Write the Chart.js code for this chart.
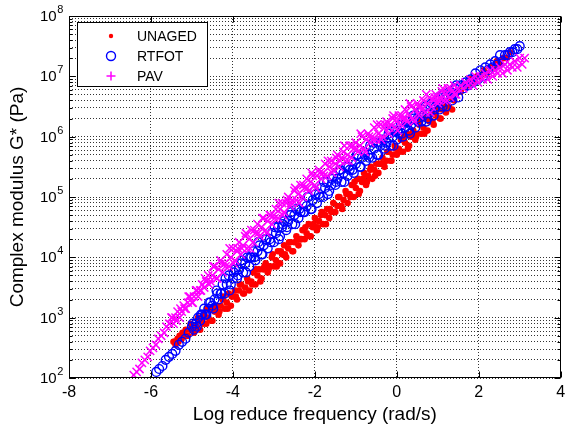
<!DOCTYPE html>
<html>
<head>
<meta charset="utf-8">
<script src="https://cdn.jsdelivr.net/npm/chart.js@4.4.1/dist/chart.umd.min.js"></script>
<style>
  html, body { margin: 0; padding: 0; background: #fff; }
</style>
</head>
<body>
<canvas id="chart" width="568" height="431"></canvas>
<script>
// log reduced frequency (rad/s) and complex modulus G* (Pa)
const unagedX = [
  -5.45, -5.40, -5.35, -5.30, -5.25, -5.20, -5.15, -5.10, -5.05, -5.00,
  -4.95, -4.90, -4.85, -4.80, -4.75, -4.70, -4.65, -4.60, -4.55, -4.50,
  -4.45, -4.40, -4.35, -4.30, -4.25, -4.20, -4.15, -4.10, -4.05, -4.00,
  -3.95, -3.90, -3.85, -3.80, -3.75, -3.70, -3.65, -3.60, -3.55, -3.50,
  -3.45, -3.40, -3.35, -3.30, -3.25, -3.20, -3.15, -3.10, -3.05, -3.00,
  -2.95, -2.90, -2.85, -2.80, -2.75, -2.70, -2.65, -2.60, -2.55, -2.50,
  -2.45, -2.40, -2.35, -2.30, -2.25, -2.20, -2.15, -2.10, -2.05, -2.00,
  -1.95, -1.90, -1.85, -1.80, -1.75, -1.70, -1.65, -1.60, -1.55, -1.50,
  -1.45, -1.40, -1.35, -1.30, -1.25, -1.20, -1.15, -1.10, -1.05, -1.00,
  -0.95, -0.90, -0.85, -0.80, -0.75, -0.70, -0.65, -0.60, -0.55, -0.50,
  -0.45, -0.40, -0.35, -0.30, -0.25, -0.20, -0.15, -0.10, -0.05, 0.00,
  0.05, 0.10, 0.15, 0.20, 0.25, 0.30, 0.35, 0.40, 0.45, 0.50,
  0.55, 0.60, 0.65, 0.70, 0.75, 0.80, 0.85, 0.90, 0.95, 1.00,
  1.05, 1.10, 1.15, 1.20, 1.25, 1.30, 1.35, 1.40,
  1.48, 1.56, 1.64, 1.72, 1.80, 1.88, 1.96, 2.04, 2.12, 2.20,
  2.28, 2.36, 2.44, 2.52, 2.60, 2.68, 2.76,

  -5.43, -5.33, -5.23, -5.13, -5.03, -4.93, -4.83, -4.73, -4.63, -4.53,
  -4.43, -4.33, -4.23, -4.13, -4.03, -3.93, -3.83, -3.73, -3.63, -3.53,
  -3.43, -3.33, -3.23, -3.13, -3.03, -2.93, -2.83, -2.73, -2.63, -2.53,
  -2.43, -2.33, -2.23, -2.13, -2.03, -1.93, -1.83, -1.73, -1.63, -1.53,
  -1.43, -1.33, -1.23, -1.13, -1.03, -0.93, -0.83, -0.73, -0.63, -0.53,
  -0.43, -0.33, -0.23, -0.13, -0.03, 0.07, 0.17, 0.27, 0.37, 0.47,
  0.57, 0.67, 0.77, 0.87, 0.97, 1.07, 1.17, 1.27, 1.37
];
const unagedG = [
  3.98e2, 3.55e2, 4.47e2, 5.01e2, 4.47e2, 5.01e2, 6.31e2, 5.01e2, 6.31e2, 7.08e2,
  5.62e2, 7.08e2, 1.0e3, 6.31e2, 8.91e2, 1.12e3, 7.94e2, 1.0e3, 1.41e3, 8.91e2,
  1.26e3, 1.58e3, 1.12e3, 1.58e3, 2.0e3, 1.41e3, 1.78e3, 2.51e3, 1.58e3, 2.24e3,
  2.82e3, 2.0e3, 2.82e3, 3.55e3, 2.51e3, 3.16e3, 4.47e3, 2.82e3, 3.98e3, 5.62e3,
  3.55e3, 5.01e3, 6.31e3, 4.47e3, 6.31e3, 7.94e3, 5.62e3, 7.08e3, 1.0e4, 7.08e3,
  8.91e3, 1.26e4, 7.94e3, 1.12e4, 1.58e4, 1.0e4, 1.41e4, 1.78e4, 1.26e4, 1.78e4,
  2.24e4, 1.58e4, 2.0e4, 2.82e4, 2.0e4, 2.51e4, 3.55e4, 2.24e4, 3.16e4, 4.47e4,
  2.82e4, 3.98e4, 5.01e4, 3.55e4, 5.01e4, 6.31e4, 4.47e4, 5.62e4, 7.94e4, 5.62e4,
  7.08e4, 1.0e5, 7.08e4, 8.91e4, 1.26e5, 7.94e4, 1.12e5, 1.58e5, 1.0e5, 1.41e5,
  2.0e5, 1.26e5, 1.78e5, 2.51e5, 1.58e5, 2.24e5, 2.82e5, 2.0e5, 2.82e5, 3.55e5,
  2.51e5, 3.55e5, 4.47e5, 3.16e5, 3.98e5, 5.62e5, 3.98e5, 5.01e5, 7.08e5, 5.01e5,
  6.31e5, 8.91e5, 5.62e5, 7.94e5, 1.12e6, 7.08e5, 1.0e6, 1.26e6, 8.91e5, 1.12e6,
  1.58e6, 1.12e6, 1.41e6, 2.0e6, 1.26e6, 1.78e6, 2.51e6, 1.58e6, 2.24e6, 2.82e6,
  2.0e6, 2.82e6, 3.55e6, 2.51e6, 3.16e6, 4.47e6, 2.82e6, 3.98e6,
  5.62e6, 5.62e6, 7.08e6, 7.08e6, 8.91e6, 7.94e6, 1.0e7, 1.0e7, 1.26e7, 1.12e7,
  1.41e7, 1.41e7, 1.78e7, 1.58e7, 2.0e7, 2.0e7, 2.51e7,

  3.98e2, 3.98e2, 5.62e2, 5.01e2, 7.94e2, 6.31e2, 8.91e2, 7.94e2, 1.41e3, 8.91e2,
  1.41e3, 1.26e3, 2.24e3, 1.41e3, 2.24e3, 2.24e3, 3.55e3, 2.51e3, 3.98e3, 3.55e3,
  6.31e3, 3.98e3, 7.08e3, 6.31e3, 1.12e4, 7.08e3, 1.26e4, 1.12e4, 1.78e4, 1.26e4,
  2.0e4, 2.0e4, 3.16e4, 2.24e4, 3.55e4, 3.16e4, 5.62e4, 3.55e4, 6.31e4, 5.62e4,
  1.0e5, 6.31e4, 1.12e5, 1.0e5, 1.78e5, 1.12e5, 2.0e5, 1.78e5, 3.16e5, 2.24e5,
  3.55e5, 3.55e5, 5.62e5, 3.98e5, 6.31e5, 5.62e5, 1.0e6, 6.31e5, 1.12e6, 1.0e6,
  1.78e6, 1.12e6, 2.0e6, 1.78e6, 2.82e6, 2.0e6, 3.16e6, 3.16e6, 4.47e6
];

const rtfotX = [
  -5.87, -5.80, -5.72, -5.64, -5.56, -5.48, -5.40, -5.32, -5.24, -5.16, -5.08,
  -5.00, -4.95, -4.90, -4.85, -4.80, -4.75, -4.70, -4.65, -4.60, -4.55,
  -4.50, -4.45, -4.40, -4.35, -4.30, -4.25, -4.20, -4.15, -4.10, -4.05,
  -4.00, -3.95, -3.90, -3.85, -3.80, -3.75, -3.70, -3.65, -3.60, -3.55,
  -3.50, -3.45, -3.40, -3.35, -3.30, -3.25, -3.20, -3.15, -3.10, -3.05,
  -3.00, -2.95, -2.90, -2.85, -2.80, -2.75, -2.70, -2.65, -2.60, -2.55,
  -2.50, -2.45, -2.40, -2.35, -2.30, -2.25, -2.20, -2.15, -2.10, -2.05,
  -2.00, -1.95, -1.90, -1.85, -1.80, -1.75, -1.70, -1.65, -1.60, -1.55,
  -1.50, -1.45, -1.40, -1.35, -1.30, -1.25, -1.20, -1.15, -1.10, -1.05,
  -1.00, -0.95, -0.90, -0.85, -0.80, -0.75, -0.70, -0.65, -0.60, -0.55,
  -0.50, -0.45, -0.40, -0.35, -0.30, -0.25, -0.20, -0.15, -0.10, -0.05,
  0.00, 0.05, 0.10, 0.15, 0.20, 0.25, 0.30, 0.35, 0.40, 0.45,
  0.50, 0.55, 0.60, 0.65, 0.70, 0.75, 0.80, 0.85, 0.90, 0.95,
  1.00, 1.05, 1.10, 1.15, 1.20, 1.25, 1.30, 1.35, 1.40, 1.45,
  1.50,
  1.56, 1.62, 1.68, 1.74, 1.80, 1.86, 1.92, 1.98, 2.04, 2.10,
  2.16, 2.22, 2.28, 2.34, 2.40, 2.46, 2.52, 2.58, 2.64, 2.70,
  2.76, 2.82, 2.88, 2.94, 3.00,

  -4.98, -4.88, -4.78, -4.68, -4.58, -4.48, -4.38, -4.28, -4.18, -4.08,
  -3.98, -3.88, -3.78, -3.68, -3.58, -3.48, -3.38, -3.28, -3.18, -3.08,
  -2.98, -2.88, -2.78, -2.68, -2.58, -2.48, -2.38, -2.28, -2.18, -2.08,
  -1.98, -1.88, -1.78, -1.68, -1.58, -1.48, -1.38, -1.28, -1.18, -1.08,
  -0.98, -0.88, -0.78, -0.68, -0.58, -0.48, -0.38, -0.28, -0.18, -0.08,
  0.02, 0.12, 0.22, 0.32, 0.42, 0.52, 0.62, 0.72, 0.82, 0.92,
  1.02, 1.12, 1.22, 1.32, 1.42
];
const rtfotG = [
  1.26e2, 1.41e2, 1.58e2, 2.0e2, 2.24e2, 2.51e2, 2.82e2, 3.55e2, 3.98e2, 4.47e2, 5.62e2,
  7.08e2, 6.31e2, 7.94e2, 1.0e3, 8.91e2, 1.12e3, 1.41e3, 1.12e3, 1.41e3, 1.78e3,
  1.58e3, 2.0e3, 2.82e3, 2.0e3, 2.51e3, 3.55e3, 2.51e3, 3.55e3, 5.01e3, 3.55e3,
  4.47e3, 6.31e3, 4.47e3, 6.31e3, 7.94e3, 5.62e3, 7.94e3, 1.0e4, 7.08e3, 1.0e4,
  1.26e4, 8.91e3, 1.26e4, 1.58e4, 1.12e4, 1.58e4, 2.0e4, 1.41e4, 2.0e4, 2.51e4,
  1.78e4, 2.51e4, 3.16e4, 2.24e4, 3.16e4, 3.98e4, 2.82e4, 3.98e4, 5.01e4, 3.55e4,
  5.01e4, 6.31e4, 4.47e4, 5.62e4, 7.94e4, 5.62e4, 7.08e4, 1.0e5, 6.31e4, 8.91e4,
  1.26e5, 7.94e4, 1.12e5, 1.41e5, 1.0e5, 1.41e5, 1.78e5, 1.26e5, 1.58e5, 2.24e5,
  1.58e5, 2.0e5, 2.82e5, 1.78e5, 2.51e5, 3.16e5, 2.24e5, 2.82e5, 3.98e5, 2.51e5,
  3.55e5, 5.01e5, 3.16e5, 4.47e5, 5.62e5, 3.98e5, 5.01e5, 7.08e5, 4.47e5, 6.31e5,
  7.94e5, 5.01e5, 7.08e5, 8.91e5, 6.31e5, 7.94e5, 1.12e6, 7.08e5, 1.0e6, 1.26e6,
  8.91e5, 1.12e6, 1.58e6, 1.0e6, 1.41e6, 1.78e6, 1.26e6, 1.58e6, 2.24e6, 1.41e6,
  2.0e6, 2.51e6, 1.78e6, 2.24e6, 3.16e6, 2.0e6, 2.51e6, 3.55e6, 2.24e6, 3.16e6,
  3.98e6, 2.82e6, 3.55e6, 5.01e6, 3.16e6, 4.47e6, 5.62e6, 3.98e6, 5.01e6, 7.08e6,
  4.47e6,
  7.08e6, 6.31e6, 7.94e6, 7.08e6, 8.91e6, 7.94e6, 1.12e7, 8.91e6, 1.26e7, 1.0e7,
  1.41e7, 1.26e7, 1.58e7, 1.41e7, 1.78e7, 1.58e7, 2.24e7, 1.78e7, 2.24e7, 2.24e7,
  2.51e7, 2.51e7, 2.82e7, 2.82e7, 3.16e7,

  7.94e2, 7.08e2, 1.12e3, 1.12e3, 1.78e3, 1.41e3, 2.51e3, 2.51e3, 4.47e3, 2.82e3,
  5.62e3, 5.01e3, 8.91e3, 5.62e3, 1.0e4, 1.0e4, 1.78e4, 1.12e4, 2.0e4, 1.78e4,
  3.16e4, 2.0e4, 3.55e4, 3.16e4, 5.62e4, 3.55e4, 6.31e4, 5.62e4, 1.0e5, 6.31e4,
  1.12e5, 1.0e5, 1.78e5, 1.12e5, 2.0e5, 1.78e5, 2.82e5, 1.78e5, 3.16e5, 2.82e5,
  5.01e5, 3.16e5, 5.01e5, 4.47e5, 7.94e5, 5.01e5, 7.94e5, 7.08e5, 1.26e6, 7.08e5,
  1.26e6, 1.12e6, 1.78e6, 1.12e6, 2.0e6, 1.78e6, 2.82e6, 1.78e6, 3.16e6, 2.82e6,
  4.47e6, 3.16e6, 5.01e6, 4.47e6, 6.31e6
];

const pavX = [
  -6.42, -6.35, -6.28, -6.22, -6.15, -6.08, -6.02, -5.95, -5.88, -5.82,
  -5.75, -5.68, -5.62, -5.55,
  -5.50, -5.45, -5.40, -5.35, -5.30, -5.25, -5.20, -5.15, -5.10, -5.05,
  -5.00, -4.95, -4.90, -4.85, -4.80, -4.75, -4.70, -4.65, -4.60, -4.55,
  -4.50, -4.45, -4.40, -4.35, -4.30, -4.25, -4.20, -4.15, -4.10, -4.05,
  -4.00, -3.95, -3.90, -3.85, -3.80, -3.75, -3.70, -3.65, -3.60, -3.55,
  -3.50, -3.45, -3.40, -3.35, -3.30, -3.25, -3.20, -3.15, -3.10, -3.05,
  -3.00, -2.95, -2.90, -2.85, -2.80, -2.75, -2.70, -2.65, -2.60, -2.55,
  -2.50, -2.45, -2.40, -2.35, -2.30, -2.25, -2.20, -2.15, -2.10, -2.05,
  -2.00, -1.95, -1.90, -1.85, -1.80, -1.75, -1.70, -1.65, -1.60, -1.55,
  -1.50, -1.45, -1.40, -1.35, -1.30, -1.25, -1.20, -1.15, -1.10, -1.05,
  -1.00, -0.95, -0.90, -0.85, -0.80, -0.75, -0.70, -0.65, -0.60, -0.55,
  -0.50, -0.45, -0.40, -0.35, -0.30, -0.25, -0.20, -0.15, -0.10, -0.05,
  0.00, 0.05, 0.10, 0.15, 0.20, 0.25, 0.30, 0.35, 0.40, 0.45,
  0.50, 0.55, 0.60, 0.65, 0.70, 0.75, 0.80, 0.85, 0.90, 0.95,
  1.00, 1.05, 1.10, 1.15, 1.20, 1.25, 1.30, 1.35, 1.40, 1.45,
  1.50,
  1.56, 1.62, 1.68, 1.74, 1.80, 1.86, 1.92, 1.98, 2.04, 2.10,
  2.16, 2.22, 2.28, 2.34, 2.40, 2.46, 2.52, 2.58, 2.64, 2.70,
  2.76, 2.82, 2.88, 2.94, 3.00, 3.06, 3.12,

  -5.48, -5.38, -5.28, -5.18, -5.08, -4.98, -4.88, -4.78, -4.68, -4.58,
  -4.48, -4.38, -4.28, -4.18, -4.08, -3.98, -3.88, -3.78, -3.68, -3.58,
  -3.48, -3.38, -3.28, -3.18, -3.08, -2.98, -2.88, -2.78, -2.68, -2.58,
  -2.48, -2.38, -2.28, -2.18, -2.08, -1.98, -1.88, -1.78, -1.68, -1.58,
  -1.48, -1.38, -1.28, -1.18, -1.08, -0.98, -0.88, -0.78, -0.68, -0.58,
  -0.48, -0.38, -0.28, -0.18, -0.08, 0.02, 0.12, 0.22, 0.32, 0.42,
  0.52, 0.62, 0.72, 0.82, 0.92, 1.02, 1.12, 1.22, 1.32, 1.42
];
const pavG = [
  1.12e2, 1.26e2, 1.41e2, 1.78e2, 2.0e2, 2.24e2, 2.82e2, 3.16e2, 3.55e2, 4.47e2,
  5.01e2, 5.62e2, 7.08e2, 7.94e2,
  1.0e3, 7.94e2, 1.0e3, 1.26e3, 1.0e3, 1.26e3, 1.58e3, 1.41e3, 1.78e3, 2.24e3,
  1.78e3, 2.24e3, 2.82e3, 2.24e3, 2.82e3, 3.55e3, 3.16e3, 3.98e3, 5.01e3, 3.98e3,
  5.01e3, 7.08e3, 4.47e3, 6.31e3, 8.91e3, 5.62e3, 7.94e3, 1.12e4, 7.08e3, 1.0e4,
  1.41e4, 8.91e3, 1.26e4, 1.78e4, 1.12e4, 1.58e4, 2.24e4, 1.41e4, 2.0e4, 2.82e4,
  1.78e4, 2.51e4, 3.55e4, 2.24e4, 3.16e4, 4.47e4, 2.82e4, 3.98e4, 5.01e4, 3.55e4,
  5.01e4, 6.31e4, 4.47e4, 6.31e4, 7.94e4, 5.62e4, 7.94e4, 1.0e5, 7.08e4, 8.91e4,
  1.26e5, 8.91e4, 1.12e5, 1.58e5, 1.0e5, 1.41e5, 2.0e5, 1.26e5, 1.78e5, 2.24e5,
  1.58e5, 2.24e5, 2.82e5, 2.0e5, 2.51e5, 3.55e5, 2.24e5, 3.16e5, 3.98e5, 2.82e5,
  3.55e5, 5.01e5, 3.16e5, 4.47e5, 5.62e5, 3.98e5, 5.01e5, 7.08e5, 4.47e5, 6.31e5,
  7.94e5, 5.62e5, 7.08e5, 1.0e6, 6.31e5, 8.91e5, 1.12e6, 7.94e5, 1.0e6, 1.41e6,
  8.91e5, 1.12e6, 1.58e6, 1.0e6, 1.41e6, 1.78e6, 1.12e6, 1.58e6, 2.0e6, 1.41e6,
  1.78e6, 2.24e6, 1.58e6, 2.0e6, 2.82e6, 1.78e6, 2.24e6, 3.16e6, 2.0e6, 2.82e6,
  3.55e6, 2.24e6, 3.16e6, 3.98e6, 2.51e6, 3.55e6, 4.47e6, 3.16e6, 3.98e6, 5.01e6,
  3.55e6, 4.47e6, 5.62e6, 3.98e6, 5.01e6, 6.31e6, 4.47e6, 5.62e6, 7.08e6, 5.01e6,
  6.31e6,
  7.08e6, 6.31e6, 7.94e6, 7.08e6, 8.91e6, 7.08e6, 1.0e7, 7.94e6, 1.0e7, 8.91e6,
  1.12e7, 8.91e6, 1.26e7, 1.0e7, 1.26e7, 1.12e7, 1.41e7, 1.12e7, 1.58e7, 1.26e7,
  1.58e7, 1.41e7, 1.78e7, 1.41e7, 2.0e7, 1.58e7, 2.0e7,

  1.0e3, 8.91e2, 1.41e3, 1.41e3, 2.24e3, 1.78e3, 2.82e3, 2.82e3, 4.47e3, 3.55e3,
  7.08e3, 4.47e3, 7.94e3, 7.08e3, 1.41e4, 7.94e3, 1.41e4, 1.41e4, 2.51e4, 1.41e4,
  2.82e4, 2.51e4, 4.47e4, 2.51e4, 5.01e4, 4.47e4, 7.94e4, 5.01e4, 8.91e4, 7.94e4,
  1.41e5, 7.94e4, 1.58e5, 1.41e5, 2.51e5, 1.41e5, 2.51e5, 2.24e5, 3.98e5, 2.51e5,
  4.47e5, 3.98e5, 7.08e5, 3.98e5, 7.08e5, 6.31e5, 1.12e6, 5.62e5, 1.0e6, 8.91e5,
  1.58e6, 8.91e5, 1.58e6, 1.41e6, 2.24e6, 1.26e6, 2.24e6, 2.0e6, 3.55e6, 1.78e6,
  3.16e6, 2.82e6, 5.01e6, 2.51e6, 4.47e6, 3.98e6, 6.31e6, 3.98e6, 6.31e6, 5.01e6
];

const xTicks = [-8, -6, -4, -2, 0, 2, 4];
const yExponents = [2, 3, 4, 5, 6, 7, 8];

const FONT = '"Liberation Sans", Arial, Helvetica, sans-serif';

function toPoints(xs, gs) {
  return xs.map((x, i) => ({ x: x, y: gs[i] }));
}

// frame, inward ticks, 10^n labels and the boxed legend (matlab look)
const matlabBits = {
  id: 'matlabBits',
  afterDraw(chart) {
    const { ctx, chartArea: a, scales } = chart;
    const x = scales.x, y = scales.y;
    const L = Math.round(a.left) + 0.5, R = Math.round(a.right) - 0.5;
    const T = Math.round(a.top) + 0.5, B = Math.round(a.bottom) - 0.5;
    ctx.save();
    ctx.setLineDash([]);
    ctx.strokeStyle = '#000';
    ctx.lineWidth = 1;

    ctx.beginPath();
    y.ticks.forEach(t => {
      const py = Math.round(y.getPixelForValue(t.value)) + 0.5;
      const len = Math.abs(Math.log10(t.value) % 1) < 1e-9 ? 6 : 3;
      ctx.moveTo(L, py); ctx.lineTo(L + len, py);
      ctx.moveTo(R, py); ctx.lineTo(R - len, py);
    });
    xTicks.forEach(v => {
      const px = Math.round(x.getPixelForValue(v)) + 0.5;
      ctx.moveTo(px, B); ctx.lineTo(px, B - 6);
      ctx.moveTo(px, T); ctx.lineTo(px, T + 6);
    });
    ctx.stroke();
    ctx.strokeRect(L, T, R - L, B - T);

    // y tick labels with superscript exponents
    ctx.fillStyle = '#000';
    ctx.textBaseline = 'middle';
    ctx.textAlign = 'left';
    yExponents.forEach(e => {
      const py = y.getPixelForValue(Math.pow(10, e));
      ctx.font = '15px ' + FONT;
      const w = ctx.measureText('10').width;
      ctx.fillText('10', 40, py + 1);
      ctx.font = '11px ' + FONT;
      ctx.fillText(String(e), 40 + w + 0.5, py - 6);
    });

    // legend
    const lx = 77.5, ly = 22.5, lw = 130, lh = 64;
    ctx.fillStyle = '#fff';
    ctx.fillRect(lx, ly, lw, lh);
    ctx.strokeRect(lx, ly, lw, lh);
    ctx.font = '14px ' + FONT;
    ctx.textBaseline = 'middle';
    const styles = ['circle', 'circle', 'cross'];
    const radii = [2.2, 4.5, 4.5];
    chart.data.datasets.forEach((ds, i) => {
      const cy = 36 + i * 20;
      ctx.fillStyle = ds.backgroundColor;
      ctx.strokeStyle = ds.borderColor;
      ctx.lineWidth = ds.borderWidth || 1;
      Chart.helpers.drawPoint(ctx, {
        pointStyle: styles[i], radius: radii[i], rotation: 0,
        borderWidth: ds.borderWidth || 0
      }, 111, cy);
      ctx.fillStyle = '#000';
      ctx.fillText(ds.label, 137, cy + 1);
    });
    ctx.restore();
  }
};

const gridStyle = {
  color: 'rgba(0,0,0,0.8)',
  lineWidth: 1,
  drawTicks: false
};

new Chart(document.getElementById('chart'), {
  type: 'scatter',
  data: {
    datasets: [
      {
        label: 'UNAGED',
        data: toPoints(unagedX, unagedG),
        pointStyle: 'circle',
        pointRadius: 3.3,
        backgroundColor: '#ff0000',
        borderColor: '#ff0000',
        borderWidth: 0,
        order: 3
      },
      {
        label: 'RTFOT',
        data: toPoints(rtfotX, rtfotG),
        pointStyle: 'circle',
        pointRadius: 4.4,
        backgroundColor: 'rgba(0,0,0,0)',
        borderColor: '#0000ff',
        borderWidth: 1.4,
        order: 2
      },
      {
        label: 'PAV',
        data: toPoints(pavX, pavG),
        pointStyle: 'crossRot',
        pointRadius: 5.8,
        backgroundColor: '#ff00ff',
        borderColor: '#ff00ff',
        borderWidth: 1.5,
        order: 1
      }
    ]
  },
  options: {
    responsive: false,
    animation: false,
    events: [],
    layout: { padding: { top: 16, right: 2, left: 0, bottom: 0 } },
    plugins: {
      legend: { display: false },
      tooltip: { enabled: false }
    },
    scales: {
      x: {
        type: 'linear',
        min: -8,
        max: 4,
        afterBuildTicks: s => { s.ticks = xTicks.map(v => ({ value: v })); },
        afterFit: s => { s.height = 53; s.paddingLeft = 0; s.paddingRight = 0; },
        ticks: {
          color: '#000',
          font: { family: FONT, size: 16 },
          padding: 5,
          maxRotation: 0
        },
        grid: gridStyle,
        border: { display: false, dash: [1, 2] },
        title: {
          display: true,
          text: 'Log reduce frequency (rad/s)',
          color: '#000',
          font: { family: FONT, size: 19 },
          padding: { top: 0, bottom: 5 }
        }
      },
      y: {
        type: 'logarithmic',
        min: 1e2,
        max: 1e8,
        afterBuildTicks: s => {
          const t = [];
          for (let e = 2; e < 8; e++) {
            for (let d = 1; d < 10; d++) t.push({ value: d * Math.pow(10, e) });
          }
          t.push({ value: 1e8 });
          s.ticks = t;
        },
        afterFit: s => { s.width = 69; },
        ticks: { display: false },
        grid: gridStyle,
        border: { display: false, dash: [1, 2] },
        title: {
          display: true,
          text: 'Complex modulus G* (Pa)',
          color: '#000',
          font: { family: FONT, size: 19 },
          padding: { top: 6, bottom: 0 }
        }
      }
    }
  },
  plugins: [matlabBits]
});
</script>
</body>
</html>
